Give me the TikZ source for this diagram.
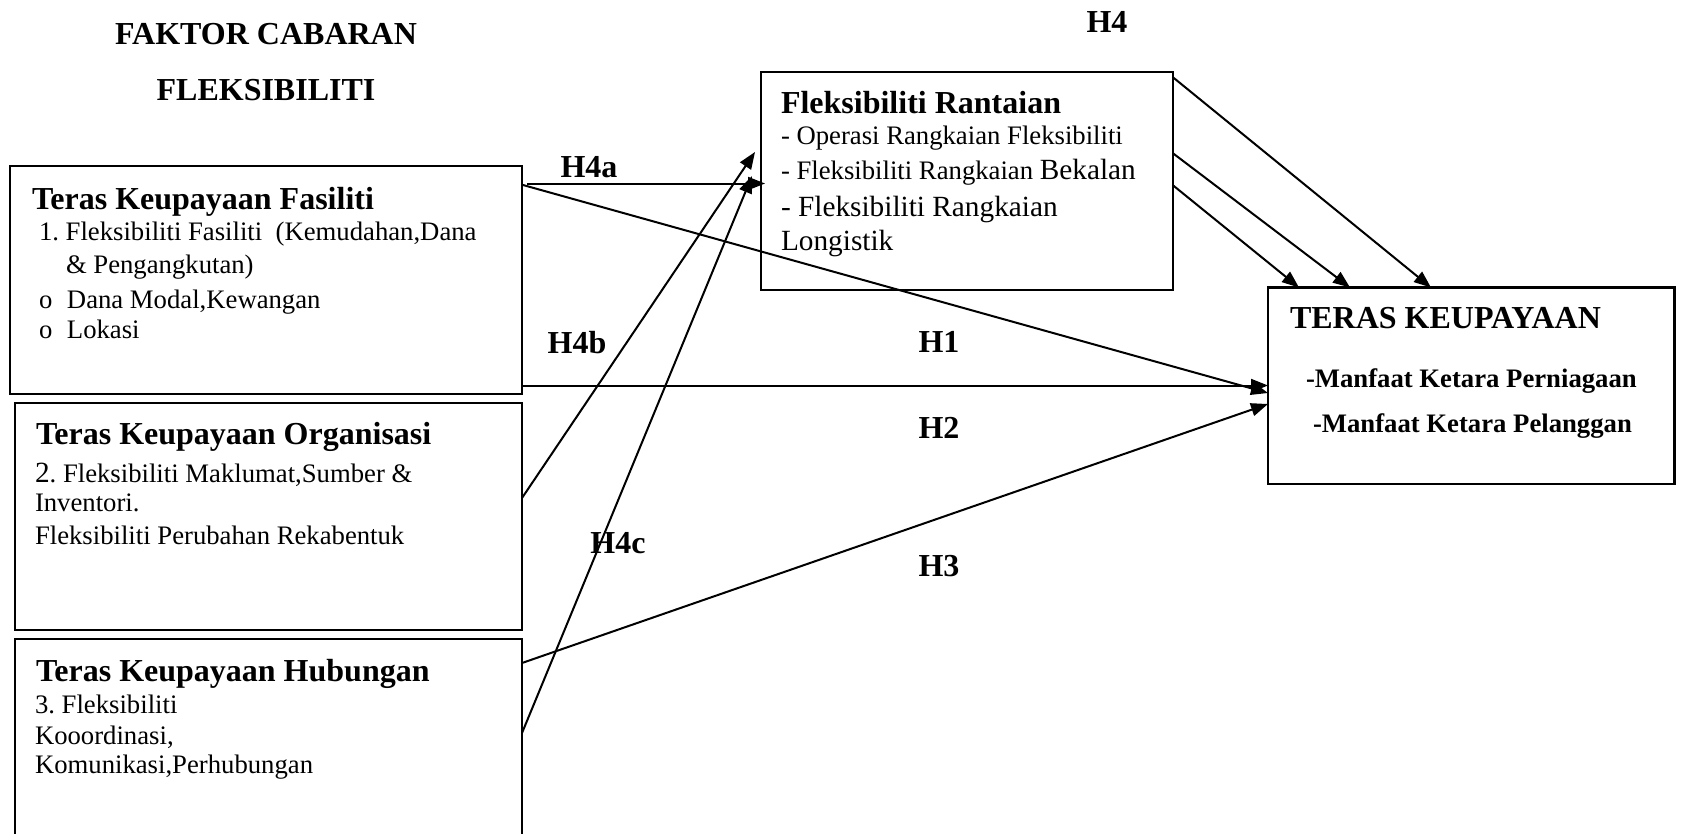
\documentclass[tikz,border=0pt]{standalone}
\usepackage{fontspec}
\setmainfont{Liberation Serif}
\usetikzlibrary{arrows.meta,calc}
\frenchspacing

% type sizes (1pt = one unit of the picture)
\newcommand\fTitle{\fontsize{32}{38}\selectfont\bfseries}
\newcommand\fBody{\fontsize{26.7}{32}\selectfont}
\newcommand\fLarge{\fontsize{29.3}{35}\selectfont}
\newcommand\fMid{\fontsize{26.7}{32}\selectfont\bfseries}

\begin{document}
\begin{tikzpicture}[x=1pt,y=-1pt,
  box/.style={draw,line width=2.2pt,inner sep=0pt,outer sep=0pt,anchor=north west},
  txt/.style={anchor=base west,inner sep=0pt,outer sep=0pt},
  lab/.style={anchor=base,inner sep=0pt,outer sep=0pt,font=\fTitle},
  conn/.style={line width=2pt,-{Triangle[length=17pt,width=13pt]}}]
\useasboundingbox (0,0) rectangle (1682,833);
\clip (0,0) rectangle (1682,833);

% heading
\node[lab] (head1) at (266,44) {FAKTOR CABARAN};
\node[lab] (head2) at (266,100) {FLEKSIBILITI};

% left column of boxes
\node[box,minimum width=512.3pt,minimum height=228pt] (fas) at (9.7,166) {};
\node[txt,font=\fTitle] (fasT) at (32,209) {Teras Keupayaan Fasiliti};
\node[txt,font=\fBody] (fas1) at (39,240) {1. Fleksibiliti Fasiliti\ \ (Kemudahan,Dana};
\node[txt,font=\fBody] (fas2) at (66,273) {\& Pengangkutan)};
\node[txt,font=\fBody] (fas3) at (39,308) {\makebox[28pt][l]{o}Dana Modal,Kewangan};
\node[txt,font=\fBody] (fas4) at (39,338) {\makebox[28pt][l]{o}Lokasi};

\node[box,minimum width=507pt,minimum height=227pt] (org) at (15,403) {};
\node[txt,font=\fTitle] (orgT) at (36,444) {Teras Keupayaan Organisasi};
\node[txt,font=\fBody] (org1) at (35,482) {{\fLarge 2}. Fleksibiliti Maklumat,Sumber \&};
\node[txt,font=\fBody] (org2) at (35,511) {Inventori.};
\node[txt,font=\fBody] (org3) at (35,544) {Fleksibiliti Perubahan Rekabentuk};

\node[box,minimum width=507pt,minimum height=215pt] (hub) at (15,639) {};
\node[txt,font=\fTitle] (hubT) at (36,681) {Teras Keupayaan Hubungan};
\node[txt,font=\fBody] (hub1) at (35,713) {3. Fleksibiliti};
\node[txt,font=\fBody] (hub2) at (35,744) {Kooordinasi,};
\node[txt,font=\fBody] (hub3) at (35,773) {Komunikasi,Perhubungan};

% mediating box
\node[box,minimum width=412pt,minimum height=218pt] (ran) at (760.6,72) {};
\node[txt,font=\fTitle] (ranT) at (781,113) {Fleksibiliti Rantaian};
\node[txt,font=\fBody] (ran1) at (781,144) {- Operasi Rangkaian Fleksibiliti};
\node[txt,font=\fBody] (ran2) at (781,179) {- Fleksibiliti Rangkaian {\fLarge Bekalan}};
\node[txt,font=\fLarge] (ran3) at (781,216) {- Fleksibiliti Rangkaian};
\node[txt,font=\fLarge] (ran4) at (781,250) {Longistik};

% outcome box
\node[box,minimum width=406.5pt,minimum height=196.5pt] (ter) at (1268,287.5) {};
\node[txt,font=\fTitle] (terT) at (1290,328) {TERAS KEUPAYAAN};
\node[txt,font=\fMid] (ter1) at (1306,387) {-Manfaat Ketara Perniagaan};
\node[txt,font=\fMid] (ter2) at (1313,432) {-Manfaat Ketara Pelanggan};

% hypothesis labels
\node[lab] (lH4) at (1107,32) {H4};
\node[lab] (lH4a) at (589,177) {H4a};
\node[lab] (lH4b) at (577,353) {H4b};
\node[lab] (lH1) at (939,352) {H1};
\node[lab] (lH2) at (939,438) {H2};
\node[lab] (lH4c) at (618,553) {H4c};
\node[lab] (lH3) at (939,576) {H3};

% connectors
\draw[conn] ($(fas.north east)+(5,17.5)$) -- ($(ran.north west)+(4.4,111.5)$);
\draw[conn] ($(fas.north east)+(1,19)$) -- ($(ter.north west)+(0,105.5)$);
\draw[conn] ($(fas.north east)+(0,219.5)$) -- ($(ter.north west)+(0,98)$);
\draw[conn] ($(hub.north east)+(0,24)$) -- ($(ter.north west)+(0,116.5)$);
\draw[conn] ($(org.north east)+(0,95)$) -- ($(ran.north west)+(-5.6,80)$);
\draw[conn] ($(hub.north east)+(0,94)$) -- ($(ran.north west)+(-8.6,104)$);
\draw[conn] ($(ran.north east)+(0,5)$) -- ($(ter.north west)+(163,0)$);
\draw[conn] ($(ran.north east)+(0,81)$) -- ($(ter.north west)+(82,0)$);
\draw[conn] ($(ran.north east)+(0,113)$) -- ($(ter.north west)+(31,0)$);
\end{tikzpicture}
\end{document}
